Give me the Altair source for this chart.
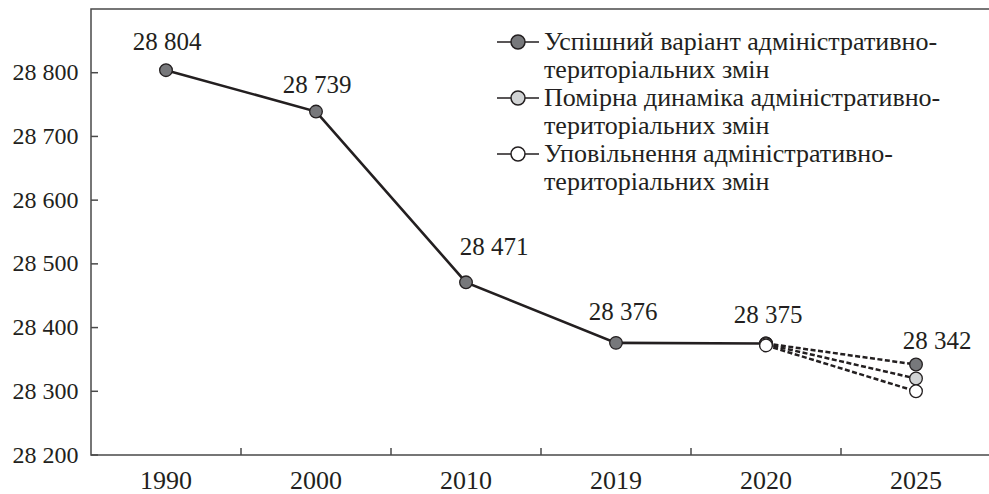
import math
import altair as alt
import pandas as pd

# ---- data -------------------------------------------------------------
years = ["1990", "2000", "2010", "2019", "2020", "2025"]
history_years = ["1990", "2000", "2010", "2019", "2020"]
history_values = [28804, 28739, 28471, 28376, 28375]

scenarios = [
    "Успішний варіант адміністративно-|територіальних змін",
    "Помірна динаміка адміністративно-|територіальних змін",
    "Уповільнення адміністративно-|територіальних змін",
]
scenario_2020 = [28375, 28374, 28372]
scenario_2025 = [28342, 28320, 28300]
scenario_fill = ["#77787b", "#d1d3d4", "#ffffff"]

label_years = years
label_values = history_values + [scenario_2025[0]]

y_ticks = [28200, 28300, 28400, 28500, 28600, 28700, 28800]

# ---- styling ----------------------------------------------------------
FONT = "Liberation Serif, DejaVu Serif, serif"
INK = "#231f20"
FRAME = "#4a4a4a"
W, H = 900, 446
TICK = 7

# label nudges (px) so the numbers clear the line
label_dx = [1, 1, 28, 7, 2, 21]
label_dy = [-28, -27, -35, -31, -29, -24]

LEG_FONT = 26
LEG_SIZE = 256  # symbol size -> path unit = sqrt(size)/2 px


def legend_glyph(radius_px, half_len_px, size):
    """Short line through a circle, drawn as one custom symbol path."""
    u = math.sqrt(size) / 2
    r = radius_px / u
    L = half_len_px / u
    return (f"M{-L:.3f},0H{-r:.3f}A{r:.3f},{r:.3f} 0 1,1 {r:.3f},0H{L:.3f}"
            f"M{r:.3f},0A{r:.3f},{r:.3f} 0 1,1 {-r:.3f},0")


glyph = legend_glyph(7, 21, LEG_SIZE)

# ---- tables -----------------------------------------------------------
hist = pd.DataFrame({"year": history_years, "value": history_values})
proj = pd.DataFrame({
    "year": ["2020"] * 3 + ["2025"] * 3,
    "value": scenario_2020 + scenario_2025,
    "scenario": scenarios + scenarios,
    "rank": [0, 1, 2, 0, 1, 2],
})
labels = pd.DataFrame({"year": label_years, "value": label_values,
                       "ndx": label_dx, "ndy": label_dy})
xticks = pd.DataFrame({"year": years[1:]})
yticks = pd.DataFrame({"value": y_ticks})

x_scale = alt.Scale(domain=years, type="band", paddingInner=0, paddingOuter=0)
x_axis = alt.Axis(title=None, domain=False, ticks=False, grid=False,
                  labelFont=FONT, labelFontSize=26, labelColor=INK,
                  labelPadding=12, labelAngle=0)
y_scale = alt.Scale(domain=[28200, 28900], nice=False, zero=False)
y_axis = alt.Axis(title=None, domain=False, ticks=False, grid=False,
                  values=y_ticks,
                  labelExpr="replace(format(datum.value, ','), ',', ' ')",
                  labelFont=FONT, labelFontSize=24, labelColor=INK,
                  labelPadding=13)


def X(band=0.5):
    return alt.X("year:N", sort=years, scale=x_scale, axis=x_axis,
                 bandPosition=band)


def Y():
    return alt.Y("value:Q", scale=y_scale, axis=y_axis)


# inward tick marks on both axes
x_tick_marks = alt.Chart(xticks).mark_rule(color=FRAME, strokeWidth=1.5).encode(
    x=X(0), y=alt.value(H), y2=alt.value(H - TICK))
y_tick_marks = alt.Chart(yticks).mark_rule(color=FRAME, strokeWidth=1.5).encode(
    y=Y(), x=alt.value(0), x2=alt.value(TICK))

dashed = alt.Chart(proj).mark_line(color=INK, strokeWidth=2.5,
                                   strokeDash=[5, 2.5]).encode(
    x=X(), y=Y(), detail="scenario:N")

solid = alt.Chart(hist).mark_line(color=INK, strokeWidth=2.6).encode(x=X(), y=Y())

hist_pts = alt.Chart(hist).mark_point(shape="circle", filled=True, size=160,
                                      fill=scenario_fill[0], stroke=INK,
                                      strokeWidth=1.3, opacity=1).encode(x=X(), y=Y())

proj_pts = alt.Chart(proj).mark_point(shape="circle", filled=True, size=160,
                                      stroke=INK, strokeWidth=1.3,
                                      opacity=1).encode(
    x=X(), y=Y(),
    fill=alt.Fill("scenario:N", sort=scenarios,
                  scale=alt.Scale(domain=scenarios, range=scenario_fill),
                  legend=alt.Legend(
                      title=None, orient="none", legendX=414, legendY=20,
                      padding=0, symbolType=glyph, symbolSize=LEG_SIZE,
                      symbolStrokeColor=INK, symbolStrokeWidth=1.5,
                      symbolOpacity=1,
                      labelFont=FONT, labelFontSize=LEG_FONT, labelColor=INK,
                      labelBaseline="middle", labelLimit=0, labelOffset=13,
                      labelExpr="split(datum.label, '|')", rowPadding=2)),
    order=alt.Order("rank:Q", sort="ascending"),
)

value_labels = alt.Chart(labels).transform_calculate(
    txt="replace(format(datum.value, ','), ',', ' ')"
).mark_text(font=FONT, fontSize=25, color=INK, baseline="middle",
            dx=alt.ExprRef("datum.ndx"), dy=alt.ExprRef("datum.ndy")).encode(
    x=X(), y=Y(), text="txt:N")

chart = alt.layer(
    x_tick_marks, y_tick_marks, dashed, solid, hist_pts, proj_pts, value_labels
).properties(
    width=W, height=H,
    autosize=alt.AutoSizeParams(type="none"),
    padding={"left": 91, "top": 9, "right": -2, "bottom": 39},
    background="white",
).configure_view(stroke=FRAME, strokeWidth=1.5)

chart.save("out.html", embed_options={"renderer": "svg", "actions": False})
